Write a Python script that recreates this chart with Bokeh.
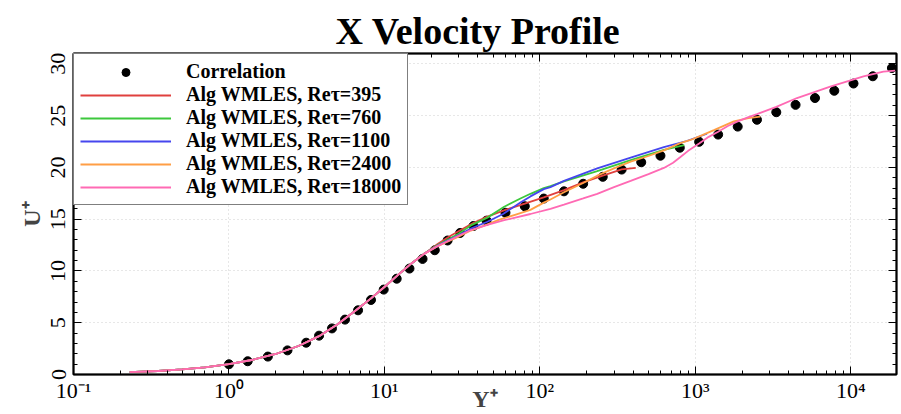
import numpy as np
from bokeh.plotting import figure
from bokeh.models import (FixedTicker, SingleIntervalTicker, LinearAxis, LogAxis, Legend,
                          LegendItem, CustomJSTickFormatter)
from bokeh.embed import file_html
from bokeh.resources import INLINE

# ---------------- data ----------------
corr_y = [1.0, 1.32, 1.78, 2.38, 3.14, 3.8, 4.6, 5.58, 6.77, 8.2, 9.9, 12.0, 14.5, 17.6,
          21.1, 25.5, 30.7, 37.4, 45.4, 60.1, 80.0, 106, 143, 190, 254, 336, 449, 597,
          795, 1059, 1403, 1875, 2494, 3320, 4417, 5890, 7840, 10420, 13870, 18400]
corr_u = [0.99, 1.28, 1.73, 2.33, 3.07, 3.75, 4.45, 5.3, 6.2, 7.2, 8.2, 9.25, 10.23, 11.16,
          12.0, 12.94, 13.67, 14.34, 14.86, 15.62, 16.25, 16.99, 17.69, 18.42, 19.09, 19.79,
          20.5, 21.13, 21.9, 22.47, 23.17, 23.94, 24.6, 25.33, 26.04, 26.7, 27.4, 28.1, 28.8, 29.6]

# near-wall part shared by all WMLES curves
wall_y = [0.23, 0.35, 0.5, 0.7, 1.0, 1.4, 2.0, 2.8, 3.8, 5.0, 6.5, 8.2, 10.0, 12.2, 15.0, 18.0]
wall_u = [0.22, 0.34, 0.49, 0.69, 1.0, 1.4, 1.98, 2.75, 3.7, 4.85, 6.15, 7.35, 8.45, 9.6, 10.75, 11.65]

re395_y = [22, 26, 31, 37, 46, 60, 80, 106, 143, 190, 254, 336, 414]
re395_u = [12.6, 13.3, 13.95, 14.6, 15.25, 15.9, 16.5, 17.1, 17.8, 18.55, 19.2, 19.8, 19.95]

re760_y = [22, 30, 36, 46, 59, 75, 87, 106, 117, 143, 234, 384, 628, 850]
re760_u = [12.5, 13.6, 14.4, 15.15, 16.2, 17.0, 17.45, 18.0, 18.2, 18.65, 19.65, 20.7, 21.7, 22.15]

re1100_y = [22, 30, 36, 46, 58, 75, 87, 106, 117, 143, 234, 384, 628, 880, 1190]
re1100_u = [12.45, 13.45, 14.1, 14.75, 15.5, 16.6, 17.2, 17.9, 18.1, 18.7, 19.9, 20.95, 21.95, 22.55, 23.25]

re2400_y = [22, 30, 36, 46, 55, 70, 87, 106, 117, 143, 190, 234, 300, 384, 500, 628, 800, 933,
            1100, 1318, 1770, 2200, 2620]
re2400_u = [12.4, 13.3, 13.9, 14.5, 14.95, 15.45, 15.9, 16.6, 16.9, 17.6, 18.5, 19.2, 19.9, 20.55,
            21.1, 21.65, 22.35, 22.65, 23.1, 23.6, 24.45, 24.75, 24.9]

re18000_y = [22, 30, 36, 46, 59, 87, 117, 143, 190, 234, 300, 384, 500, 628, 720, 795, 900, 1059,
             1220, 1403, 1620, 1875, 2200, 2494, 3320, 4510, 7380, 12080, 16220, 19300]
re18000_u = [12.4, 13.4, 13.95, 14.45, 14.9, 15.5, 16.0, 16.4, 17.0, 17.45, 18.1, 18.7, 19.35, 19.95,
             20.45, 20.95, 21.6, 22.3, 22.95, 23.45, 24.0, 24.45, 24.85, 25.15, 25.85, 26.7, 27.8,
             28.8, 29.25, 29.35]

series = [
    ("Alg WMLES, Re\u03c4=395", re395_y, re395_u, "#e0403e"),
    ("Alg WMLES, Re\u03c4=760", re760_y, re760_u, "#3cc83c"),
    ("Alg WMLES, Re\u03c4=1100", re1100_y, re1100_u, "#4646ee"),
    ("Alg WMLES, Re\u03c4=2400", re2400_y, re2400_u, "#ff9e45"),
    ("Alg WMLES, Re\u03c4=18000", re18000_y, re18000_u, "#ff6ab4"),
]

x_major = [0.1, 1, 10, 100, 1000, 10000]
y_major = [0, 5, 10, 15, 20, 25, 30]

# ---------------- figure ----------------
SERIF = "Liberation Serif"
p = figure(width=901, height=414, x_axis_type="log", x_range=(0.1, 19700), y_range=(0, 31.0),
           output_backend="svg", toolbar_location=None,
           min_border_left=73, min_border_right=5, min_border_top=53, min_border_bottom=36)
p.background_fill_color = "white"
p.border_fill_color = "white"
p.outline_line_color = "black"
p.outline_line_width = 2

p.title.text = "X Velocity Profile"
p.title.align = "left"
p.title.text_font = SERIF
p.title.text_font_style = "bold"
p.title.text_font_size = "38px"
p.title.text_color = "black"
p.title.offset = 262
p.title.standoff = 4

x_minor = [m * 10.0 ** k for k in range(-1, 5) for m in range(2, 10)]
xticker = FixedTicker(ticks=x_major, minor_ticks=x_minor)
yticker = SingleIntervalTicker(interval=5, num_minor_ticks=5)

sup_code = """
const sup = {"-":"\\u207B","0":"\\u2070","1":"\\u00B9","2":"\\u00B2","3":"\\u00B3","4":"\\u2074",
             "5":"\\u2075","6":"\\u2076","7":"\\u2077","8":"\\u2078","9":"\\u2079"};
const e = Math.round(Math.log10(tick));
return "10" + String(e).split("").map(c => sup[c]).join("");
"""

def style_axis(ax):
    ax.axis_line_color = "black"
    ax.axis_line_width = 1.5
    ax.major_tick_in = 8
    ax.major_tick_out = 0
    ax.minor_tick_in = 4
    ax.minor_tick_out = 0
    ax.major_tick_line_color = "black"
    ax.minor_tick_line_color = "black"
    ax.major_label_text_font = SERIF
    ax.major_label_text_font_size = "22px"
    ax.major_label_text_color = "black"

xa = p.xaxis[0]
xa.ticker = xticker
xa.formatter = CustomJSTickFormatter(code=sup_code)
style_axis(xa)
xa.major_label_standoff = 3
xa.axis_label = "Y\u207A"
xa.axis_label_text_font = SERIF
xa.axis_label_text_font_style = "bold"
xa.axis_label_text_font_size = "24px"
xa.axis_label_standoff = -20

ya = p.yaxis[0]
ya.ticker = yticker
style_axis(ya)
ya.major_label_orientation = "vertical"
ya.major_label_standoff = 8
ya.axis_label = "U\u207A"
ya.axis_label_text_font = SERIF
ya.axis_label_text_font_style = "bold"
ya.axis_label_text_font_size = "24px"
ya.axis_label_standoff = 4

right = LinearAxis(ticker=yticker, formatter=CustomJSTickFormatter(code="return '';"))
style_axis(right)
right.major_label_standoff = 0
right.major_label_text_font_size = "0px"
p.add_layout(right, "right")

top = LogAxis(ticker=xticker, formatter=CustomJSTickFormatter(code="return '';"))
style_axis(top)
top.major_label_standoff = 0
top.major_label_text_font_size = "0px"
p.add_layout(top, "above")

p.xgrid.ticker = FixedTicker(ticks=x_major)
p.ygrid.ticker = FixedTicker(ticks=y_major)
for g in (p.xgrid[0], p.ygrid[0]):
    g.grid_line_color = "#cfcfcf"
    g.grid_line_dash = "1 3"
    g.grid_line_width = 1

items = []
pts = p.scatter(corr_y, corr_u, size=9, color="black", marker="circle")
items.append(LegendItem(label="Correlation", renderers=[pts]))
for label, ys, us, col in series:
    r = p.line(wall_y + ys, wall_u + us, line_color=col, line_width=1.8)
    items.append(LegendItem(label=label, renderers=[r]))

legend = Legend(items=items, location="top_left", margin=0, padding=6, spacing=0,
                glyph_width=91, glyph_height=20, label_height=20, label_standoff=15,
                label_text_font=SERIF, label_text_font_style="bold",
                label_text_font_size="20px", label_text_color="black",
                border_line_color="black", border_line_width=1.5,
                background_fill_color="white", background_fill_alpha=1.0)
p.add_layout(legend)

open("out.html", "w").write(file_html(p, INLINE))
